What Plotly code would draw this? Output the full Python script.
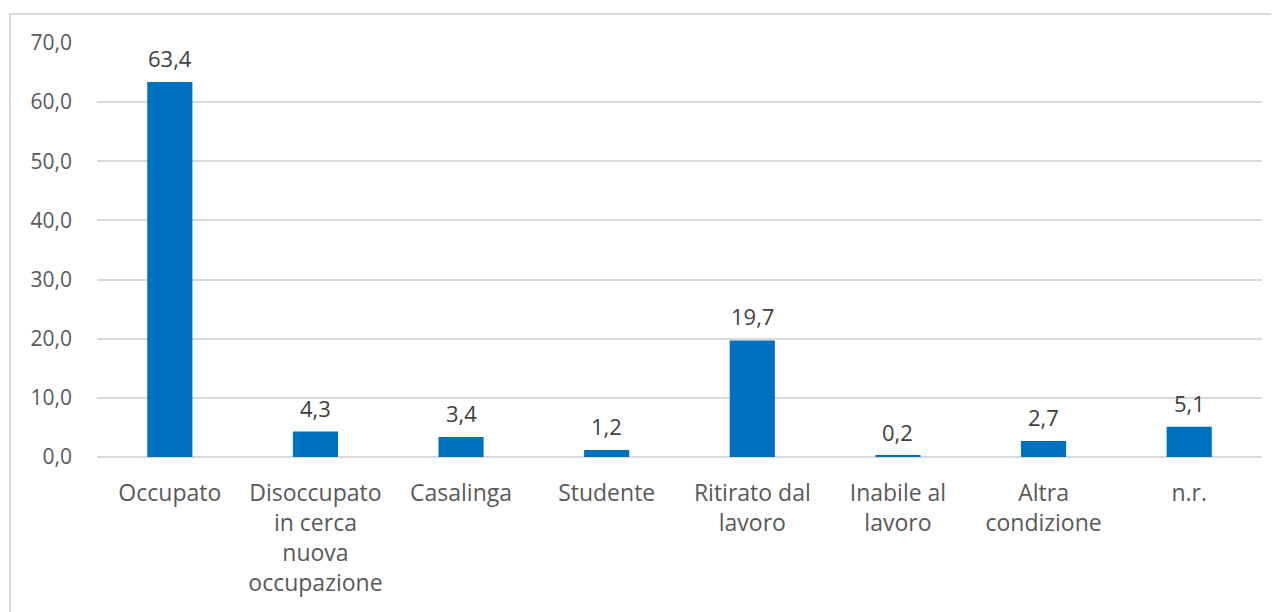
import plotly.graph_objects as go

_FONT_FAMILY = "'Open Sans', 'Noto Sans', Arial, sans-serif"
_TEXT_COLOR = "#595959"
_GRID_COLOR = "#d9d9d9"
_BAR_COLOR = "#0070C0"

categories = [
    "Occupato",
    "Disoccupato<br>in cerca<br>nuova<br>occupazione",
    "Casalinga",
    "Studente",
    "Ritirato dal<br>lavoro",
    "Inabile al<br>lavoro",
    "Altra<br>condizione",
    "n.r.",
]
values = [63.4, 4.3, 3.4, 1.2, 19.7, 0.2, 2.7, 5.1]
y_ticks = [0, 10, 20, 30, 40, 50, 60, 70]

fig = go.Figure(go.Bar(
    x=categories,
    y=values,
    marker=dict(color=_BAR_COLOR, line_width=0),
    hovertemplate="%{x}: %{y:.1f}<extra></extra>",
))

# value labels above the bars
annotations = []
for cat, val in zip(categories, values):
    annotations.append(dict(
        x=cat, y=val, xref="x", yref="y",
        text=f"{val:.1f}".replace(".", ","),
        showarrow=False, yanchor="bottom", yshift=7,
        font=dict(size=22, color="#404040", family=_FONT_FAMILY),
    ))

# page body adds an 8px offset, so the figure is sized a bit smaller
fig.update_layout(
    width=1271, height=604,
    paper_bgcolor="white", plot_bgcolor="white",
    font=dict(family=_FONT_FAMILY, size=22, color=_TEXT_COLOR),
    separators=",.",
    bargap=0.69,
    showlegend=False,
    margin=dict(l=89, r=17, t=35, b=155),
    xaxis=dict(
        showgrid=False, showline=False, ticks="",
        ticklabelstandoff=20,
        tickfont=dict(size=23, color=_TEXT_COLOR),
    ),
    yaxis=dict(
        range=[0, 70], tickvals=y_ticks, tickformat=".1f",
        showgrid=True, gridcolor=_GRID_COLOR, gridwidth=2,
        zeroline=True, zerolinecolor=_GRID_COLOR, zerolinewidth=2,
        showline=False, ticks="", ticklabelstandoff=24,
        tickfont=dict(size=21, color=_TEXT_COLOR),
    ),
    annotations=annotations,
    shapes=[dict(
        type="rect", xref="paper", yref="paper",
        x0=-0.0747, x1=1.1, y0=-0.6, y1=1.07,
        line=dict(color=_GRID_COLOR, width=2),
        fillcolor="rgba(0,0,0,0)", layer="below",
    )],
)

fig.write_html("out.html")
